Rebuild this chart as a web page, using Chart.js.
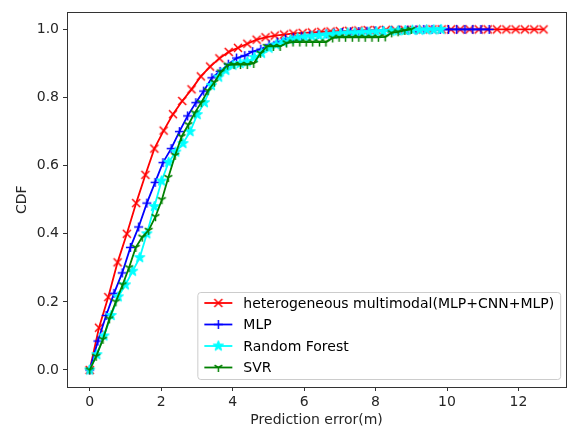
<!DOCTYPE html>
<html>
<head>
<meta charset="utf-8">
<script src="https://cdn.jsdelivr.net/npm/chart.js@4"></script>
<style>
  html, body { margin: 0; padding: 0; background: #fff; }
  #wrap { width: 572px; height: 429px; }
</style>
</head>
<body>
<div id="wrap"><canvas id="cdfChart" width="572" height="429"></canvas></div>
<script>
const hmmErr = [0, 0.26, 0.52, 0.78, 1.04, 1.30, 1.56, 1.81, 2.07, 2.33, 2.59, 2.85, 3.11, 3.37, 3.63, 3.89, 4.15, 4.41, 4.67, 4.92,
    5.18, 5.44, 5.70, 5.96, 6.22, 6.48, 6.74, 7.00, 7.26, 7.52, 7.78, 8.03, 8.29, 8.55, 8.81, 9.07, 9.33, 9.59, 9.85, 10.11,
    10.37, 10.63, 10.89, 11.14, 11.40, 11.66, 11.92, 12.18, 12.44, 12.70];
const hmmCdf = [0, 0.124, 0.214, 0.316, 0.40, 0.49, 0.573, 0.65, 0.703, 0.751, 0.79, 0.824, 0.862, 0.891, 0.915, 0.934, 0.946, 0.958, 0.970, 0.977,
    0.982, 0.985, 0.988, 0.99, 0.991, 0.993, 0.994, 0.995, 0.996, 0.997, 0.998, 0.998, 0.999, 0.999, 0.999, 0.999, 1, 1, 1, 1,
    1, 1, 1, 1, 1, 1, 1, 1, 1, 1];

const mlpErr = [0, 0.23, 0.46, 0.68, 0.91, 1.14, 1.37, 1.60, 1.83, 2.05, 2.28, 2.51, 2.74, 2.97, 3.19, 3.42, 3.65, 3.88, 4.11, 4.34,
    4.56, 4.79, 5.02, 5.25, 5.48, 5.70, 5.93, 6.16, 6.39, 6.62, 6.84, 7.07, 7.30, 7.53, 7.76, 7.99, 8.21, 8.44, 8.67, 8.90,
    9.13, 9.35, 9.58, 9.81, 10.04, 10.27, 10.50, 10.72, 10.95, 11.18];
const mlpCdf = [0, 0.085, 0.16, 0.225, 0.285, 0.36, 0.42, 0.49, 0.551, 0.609, 0.65, 0.70, 0.746, 0.785, 0.819, 0.858, 0.877, 0.898, 0.916, 0.923,
    0.935, 0.942, 0.955, 0.963, 0.972, 0.976, 0.979, 0.982, 0.985, 0.987, 0.989, 0.991, 0.993, 0.994, 0.995, 0.996, 0.997, 0.997, 0.998, 0.998,
    0.999, 1, 1, 1, 1, 1, 1, 1, 1, 1];

const rfErr = [0, 0.20, 0.40, 0.60, 0.80, 1.00, 1.20, 1.40, 1.60, 1.81, 2.01, 2.21, 2.41, 2.61, 2.81, 3.01, 3.21, 3.41, 3.61, 3.81,
    4.01, 4.21, 4.41, 4.61, 4.81, 5.02, 5.22, 5.42, 5.62, 5.82, 6.02, 6.22, 6.42, 6.62, 6.82, 7.02, 7.22, 7.42, 7.62, 7.82,
    8.02, 8.22, 8.43, 8.63, 8.83, 9.03, 9.23, 9.43, 9.63, 9.83];
const rfCdf = [0, 0.045, 0.10, 0.16, 0.215, 0.25, 0.29, 0.33, 0.40, 0.48, 0.555, 0.61, 0.64, 0.665, 0.70, 0.75, 0.785, 0.835, 0.86, 0.88,
    0.895, 0.90, 0.905, 0.918, 0.93, 0.945, 0.955, 0.963, 0.97, 0.975, 0.978, 0.98, 0.982, 0.984, 0.986, 0.988, 0.99, 0.99, 0.991, 0.992,
    0.993, 0.994, 0.995, 0.996, 0.997, 0.998, 0.998, 0.999, 0.999, 1.0];

const svrErr = [0, 0.18, 0.37, 0.55, 0.73, 0.92, 1.10, 1.29, 1.47, 1.65, 1.84, 2.02, 2.20, 2.39, 2.57, 2.76, 2.94, 3.12, 3.31, 3.49,
    3.67, 3.86, 4.04, 4.22, 4.41, 4.59, 4.78, 4.96, 5.14, 5.33, 5.51, 5.69, 5.88, 6.06, 6.24, 6.43, 6.61, 6.80, 6.98, 7.16,
    7.35, 7.53, 7.71, 7.90, 8.08, 8.27, 8.45, 8.63, 8.82, 9.00];
const svrCdf = [0, 0.04, 0.09, 0.15, 0.20, 0.25, 0.30, 0.36, 0.39, 0.41, 0.45, 0.50, 0.565, 0.63, 0.685, 0.72, 0.755, 0.785, 0.82, 0.845,
    0.875, 0.895, 0.897, 0.897, 0.897, 0.90, 0.93, 0.95, 0.95, 0.95, 0.96, 0.963, 0.963, 0.963, 0.963, 0.963, 0.963, 0.975, 0.977, 0.977,
    0.977, 0.977, 0.977, 0.977, 0.977, 0.978, 0.99, 0.993, 0.997, 1.0];

const seriesNames = ['heterogeneous multimodal(MLP+CNN+MLP)', 'MLP', 'Random Forest', 'SVR'];
const xTickValues = [0, 2, 4, 6, 8, 10, 12];
const yTickValues = [0, 0.2, 0.4, 0.6, 0.8, 1.0];

Chart.defaults.font.family = "'DejaVu Sans', sans-serif";
Chart.defaults.font.size = 14;
Chart.defaults.color = '#262626';

// matplotlib-like markers drawn on little canvases so Chart.js can use them as pointStyle
function makeMarker(kind, color, r) {
    const size = Math.ceil(r * 2 + 4);
    const c = document.createElement('canvas');
    c.width = size;
    c.height = size;
    const ctx = c.getContext('2d');
    const m = size / 2;
    ctx.strokeStyle = color;
    ctx.fillStyle = color;
    ctx.lineWidth = 1.5;
    ctx.beginPath();
    if (kind === 'x') {
        ctx.moveTo(m - r, m - r); ctx.lineTo(m + r, m + r);
        ctx.moveTo(m + r, m - r); ctx.lineTo(m - r, m + r);
        ctx.stroke();
    } else if (kind === '+') {
        ctx.moveTo(m - r, m); ctx.lineTo(m + r, m);
        ctx.moveTo(m, m - r); ctx.lineTo(m, m + r);
        ctx.stroke();
    } else if (kind === 'star') {
        for (let k = 0; k < 10; k++) {
            const a = -Math.PI / 2 + k * Math.PI / 5;
            const rr = k % 2 ? r * 0.42 : r;
            const px = m + rr * Math.cos(a), py = m + rr * Math.sin(a);
            if (k === 0) ctx.moveTo(px, py); else ctx.lineTo(px, py);
        }
        ctx.closePath();
        ctx.fill();
        ctx.lineWidth = 1;
        ctx.stroke();
    } else if (kind === 'tri') {
        ctx.moveTo(m, m); ctx.lineTo(m, m + r);
        ctx.moveTo(m, m); ctx.lineTo(m - r * 0.866, m - r * 0.5);
        ctx.moveTo(m, m); ctx.lineTo(m + r * 0.866, m - r * 0.5);
        ctx.stroke();
    }
    return c;
}

const seriesColors = ['#ff0000', '#0000ff', '#00ffff', '#008000'];
const markers = [
    makeMarker('x', seriesColors[0], 4),
    makeMarker('+', seriesColors[1], 4.5),
    makeMarker('star', seriesColors[2], 5.5),
    makeMarker('tri', seriesColors[3], 4.5),
];

function toPoints(xs, ys) {
    return xs.map((x, i) => ({ x: x, y: ys[i] }));
}

function buildDataset(idx, xs, ys) {
    return {
        label: seriesNames[idx],
        data: toPoints(xs, ys),
        borderColor: seriesColors[idx],
        backgroundColor: seriesColors[idx],
        borderWidth: 1.8,
        pointStyle: markers[idx],
        pointRadius: 4,
        pointHoverRadius: 4,
        tension: 0,
        order: 4 - idx, // later series drawn on top, like matplotlib
    };
}

// dark frame round the plot area
const framePlugin = {
    id: 'frame',
    afterDatasetsDraw(chart) {
        const a = chart.chartArea;
        const ctx = chart.ctx;
        ctx.save();
        ctx.strokeStyle = '#333';
        ctx.lineWidth = 1;
        ctx.strokeRect(Math.round(a.left) + 0.5, Math.round(a.top) + 0.5,
            Math.round(a.right - a.left), Math.round(a.bottom - a.top));
        ctx.restore();
    }
};

// legend box in the lower right corner of the axes
const legendPlugin = {
    id: 'cornerLegend',
    afterDraw(chart) {
        const a = chart.chartArea;
        const ctx = chart.ctx;
        ctx.save();
        ctx.font = "14px 'DejaVu Sans', sans-serif";
        const textW = Math.max(...seriesNames.map(n => ctx.measureText(n).width));
        const rowH = 21.5;
        const boxW = 46 + textW + 6;
        const boxH = rowH * seriesNames.length + 1;
        const right = a.right - 6;
        const bottom = a.bottom - 8;
        const left = right - boxW;
        const top = bottom - boxH;

        ctx.beginPath();
        ctx.roundRect(left + 0.5, top + 0.5, boxW, boxH, 3);
        ctx.fillStyle = 'rgba(255,255,255,0.8)';
        ctx.fill();
        ctx.strokeStyle = '#cccccc';
        ctx.lineWidth = 1;
        ctx.stroke();

        seriesNames.forEach(function (name, i) {
            const y = top + 11 + i * rowH;
            ctx.beginPath();
            ctx.moveTo(left + 7, y);
            ctx.lineTo(left + 35, y);
            ctx.strokeStyle = seriesColors[i];
            ctx.lineWidth = 1.8;
            ctx.stroke();
            const mk = markers[i];
            ctx.drawImage(mk, left + 21 - mk.width / 2, y - mk.height / 2);
            ctx.fillStyle = '#000';
            ctx.textBaseline = 'middle';
            ctx.textAlign = 'left';
            ctx.fillText(name, left + 46, y + 1);
        });
        ctx.restore();
    }
};

const chart = new Chart(document.getElementById('cdfChart'), {
    type: 'line',
    data: {
        datasets: [
            buildDataset(0, hmmErr, hmmCdf),
            buildDataset(1, mlpErr, mlpCdf),
            buildDataset(2, rfErr, rfCdf),
            buildDataset(3, svrErr, svrCdf),
        ]
    },
    options: {
        responsive: false,
        animation: false,
        layout: {
            padding: { top: 7, right: 3, left: 0, bottom: 0 }
        },
        plugins: {
            legend: { display: false },
            tooltip: { enabled: false },
        },
        scales: {
            x: {
                type: 'linear',
                min: -0.635,
                max: 13.335,
                afterBuildTicks: function (scale) {
                    scale.ticks = xTickValues.map(v => ({ value: v }));
                },
                afterFit: function (scale) {
                    scale.height = 42;
                },
                ticks: {
                    padding: 3,
                    maxRotation: 0,
                    callback: v => String(v),
                },
                grid: {
                    drawOnChartArea: false,
                    tickLength: 4,
                    tickColor: '#333',
                },
                border: { display: false },
                title: {
                    display: true,
                    text: 'Prediction error(m)',
                    color: '#262626',
                    padding: { top: 0, bottom: 0 },
                },
            },
            y: {
                type: 'linear',
                min: -0.05,
                max: 1.05,
                afterBuildTicks: function (scale) {
                    scale.ticks = yTickValues.map(v => ({ value: v }));
                },
                afterFit: function (scale) {
                    scale.width = 67;
                },
                ticks: {
                    padding: 4,
                    callback: v => v.toFixed(1),
                },
                grid: {
                    drawOnChartArea: false,
                    tickLength: 4,
                    tickColor: '#333',
                },
                border: { display: false },
                title: {
                    display: true,
                    text: 'CDF',
                    color: '#262626',
                    padding: { top: 14, bottom: 0 },
                },
            }
        }
    },
    plugins: [framePlugin, legendPlugin],
});
</script>
</body>
</html>
